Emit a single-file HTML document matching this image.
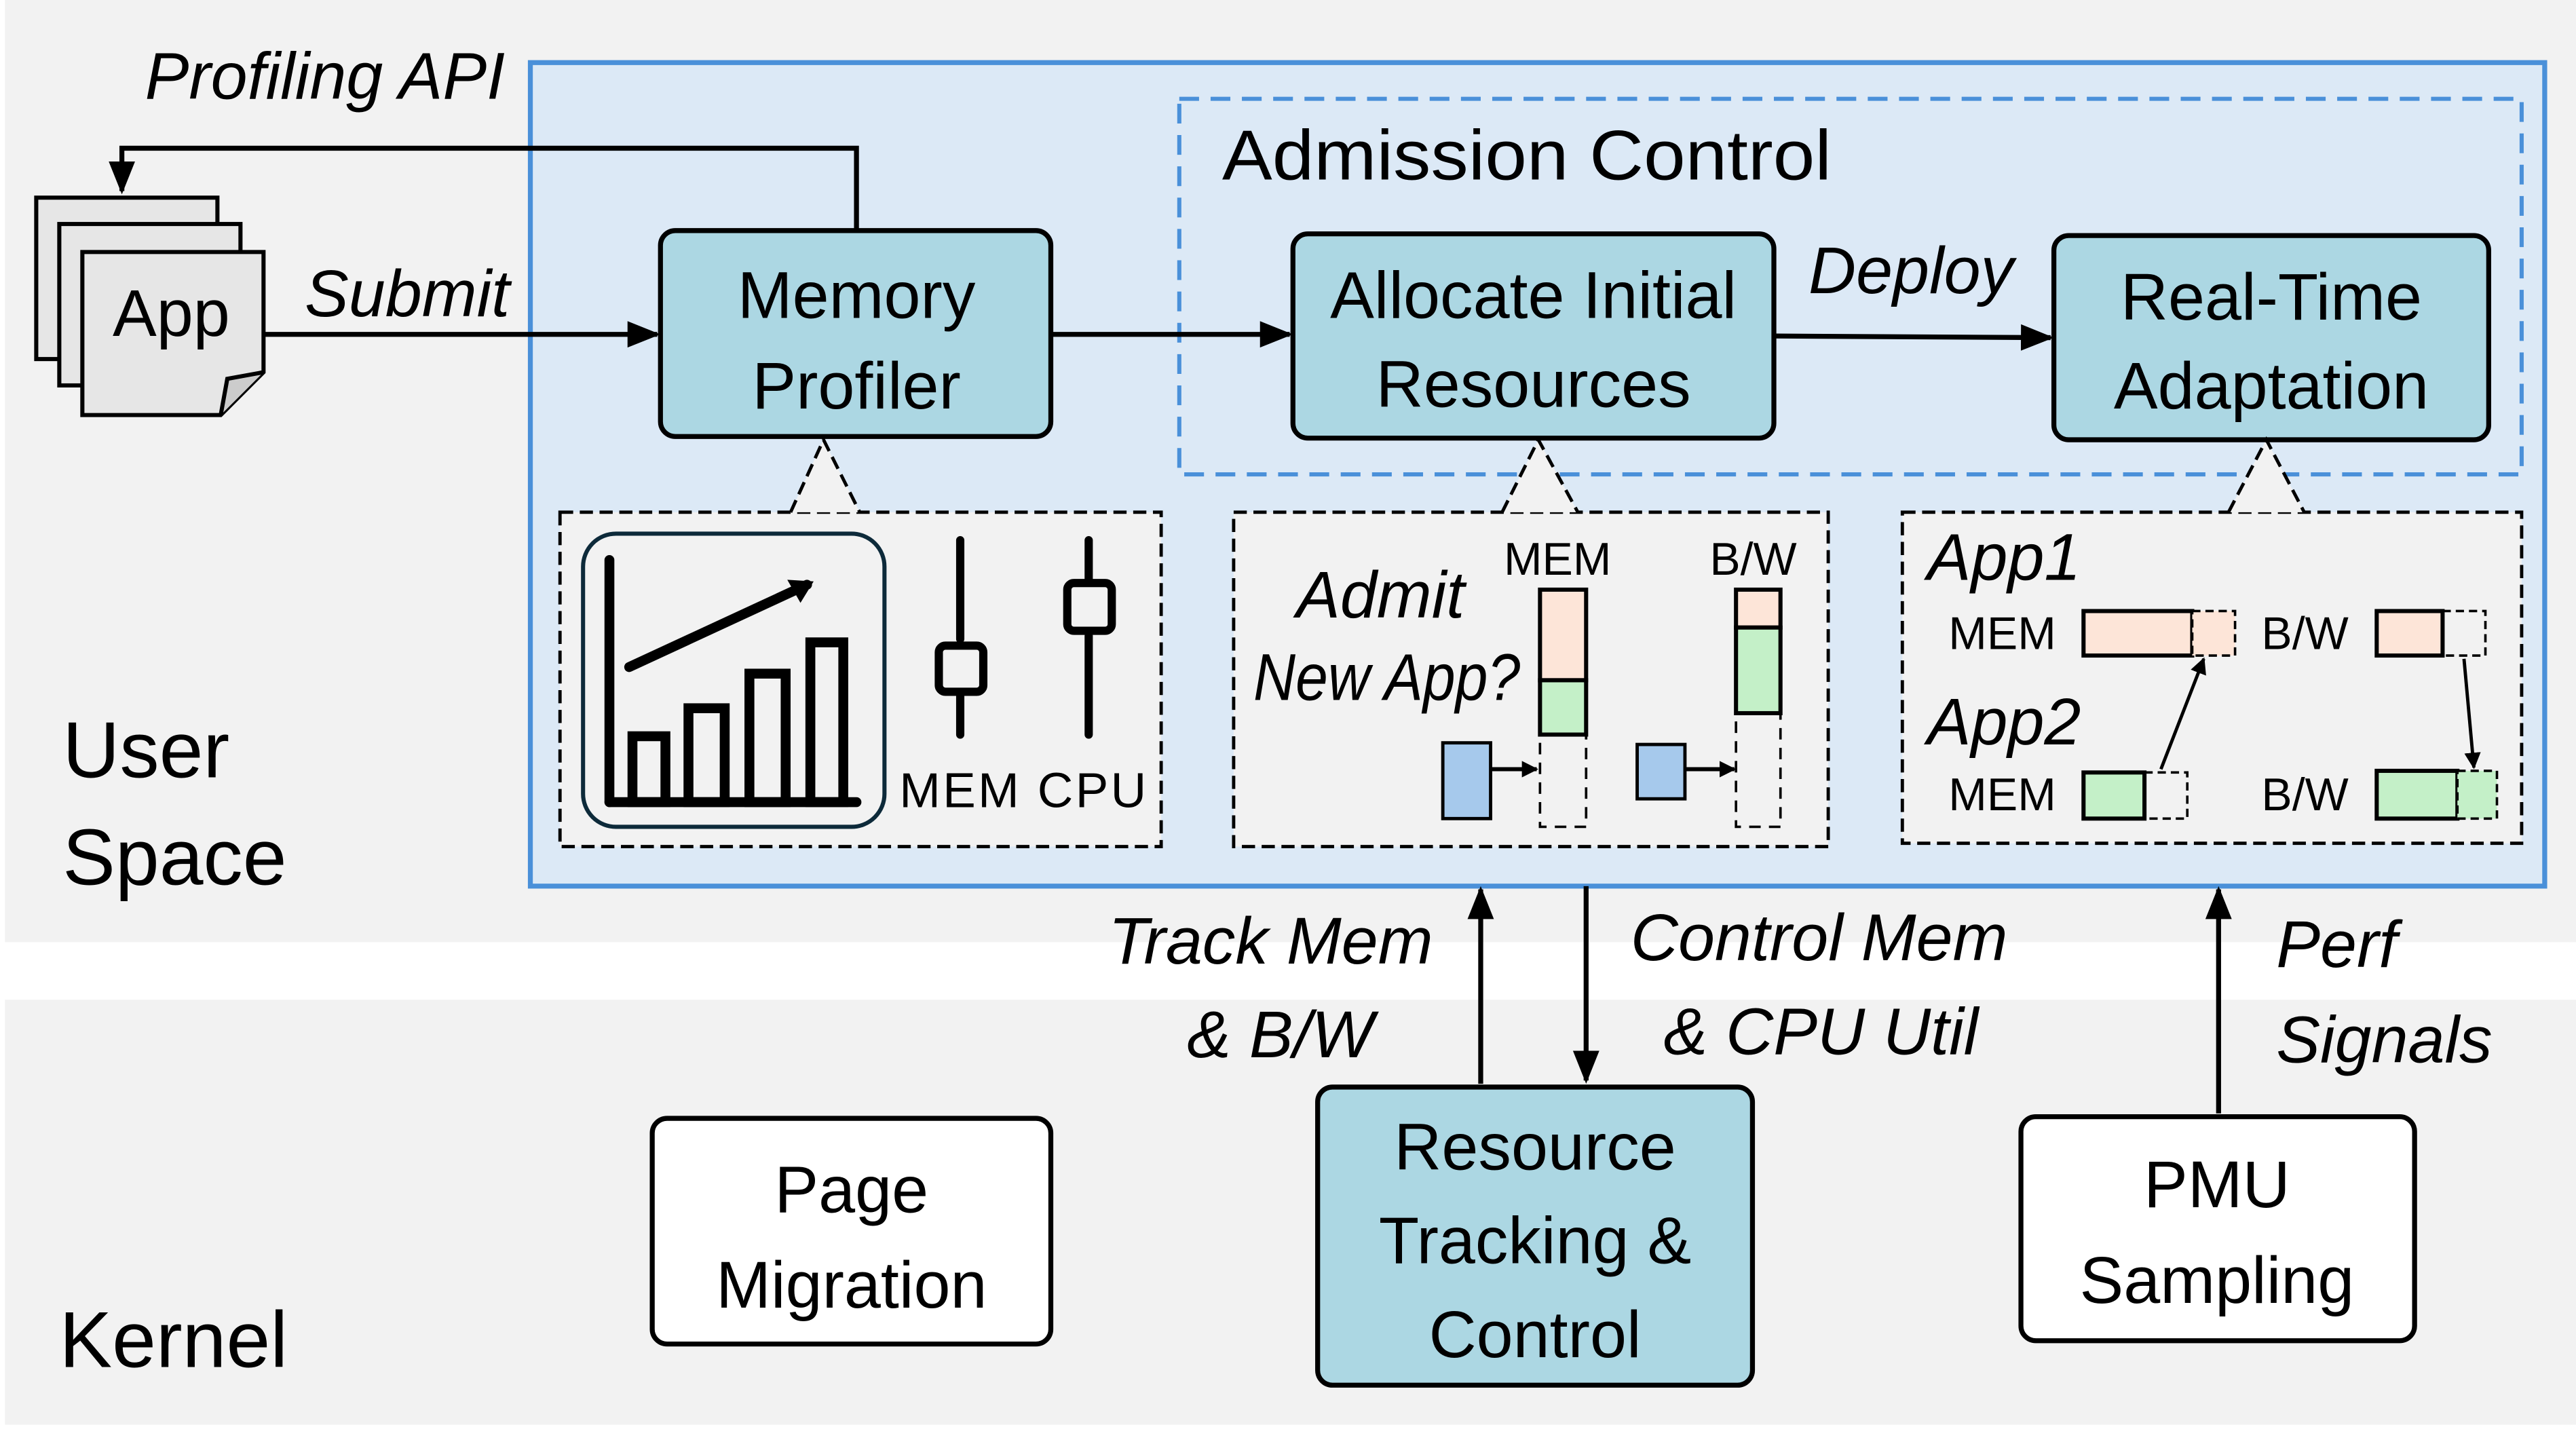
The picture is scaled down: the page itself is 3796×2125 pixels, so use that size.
<!DOCTYPE html>
<html><head><meta charset="utf-8"><style>
html,body{margin:0;padding:0;background:#fff;}
svg{display:block;}
text{font-family:"Liberation Sans",sans-serif;fill:#000;}
.n{font-size:40px;text-anchor:middle;}
.i{font-style:italic;font-size:40px;}
.s{font-size:28px;}
</style></head><body>
<svg width="3796" height="2125" viewBox="0 0 1564 875.5" preserveAspectRatio="none" xmlns="http://www.w3.org/2000/svg">
<defs>
<marker id="ah" markerWidth="10" markerHeight="10" refX="9" refY="5" orient="auto" markerUnits="userSpaceOnUse" viewBox="0 0 10 10"><path d="M0,0 L10,5 L0,10 z" fill="#000"/></marker>
<marker id="ah2" markerWidth="20" markerHeight="20" refX="18" refY="10" orient="auto" markerUnits="userSpaceOnUse" viewBox="0 0 20 20"><path d="M0,2 L20,10 L0,18 z" fill="#000"/></marker>
</defs>
<rect x="3" y="0" width="1561" height="572" fill="#f2f2f2"/>
<rect x="3" y="607" width="1561" height="258" fill="#f2f2f2"/>
<rect x="322" y="38" width="1223" height="500" fill="#dce9f6" stroke="#4a90d9" stroke-width="3"/>
<rect x="716" y="60" width="815" height="228" fill="none" stroke="#4a90d9" stroke-width="2.5" stroke-dasharray="12,7"/>
<text x="742" y="109" font-size="43" textLength="370" lengthAdjust="spacingAndGlyphs">Admission Control</text>
<text x="38" y="472" font-size="48">User</text>
<text x="38" y="537" font-size="48">Space</text>
<text x="36" y="830" font-size="48">Kernel</text>
<rect x="22" y="120" width="110" height="98" fill="#e6e6e6" stroke="#000" stroke-width="2.5"/>
<rect x="36" y="136" width="110" height="98" fill="#e6e6e6" stroke="#000" stroke-width="2.5"/>
<path d="M50,153 H160 V226 L134,252 H50 Z" fill="#e6e6e6" stroke="#000" stroke-width="2.5"/>
<path d="M134,252 L138,230 L160,226" fill="#ccc" stroke="#000" stroke-width="2.5"/>
<text x="104" y="204" class="n" font-size="38">App</text>
<polyline points="520,140 520,90 74,90 74,116" fill="none" stroke="#000" stroke-width="3" marker-end="url(#ah2)"/>
<text x="88" y="60" class="i">Profiling API</text>
<line x1="160" y1="203" x2="399" y2="203" stroke="#000" stroke-width="3" marker-end="url(#ah2)"/>
<text x="185" y="192" class="i">Submit</text>
<rect x="401" y="140" width="237" height="125" rx="9" fill="#acd7e3" stroke="#000" stroke-width="3"/>
<text x="520" y="193" class="n" font-size="44">Memory</text>
<text x="520" y="248" class="n" font-size="44">Profiler</text>
<line x1="638" y1="203" x2="783" y2="203" stroke="#000" stroke-width="3" marker-end="url(#ah2)"/>
<rect x="785" y="142" width="292" height="124" rx="9" fill="#acd7e3" stroke="#000" stroke-width="3"/>
<text x="931" y="193" class="n">Allocate Initial</text>
<text x="931" y="247" class="n">Resources</text>
<line x1="1077" y1="204" x2="1245" y2="205" stroke="#000" stroke-width="3" marker-end="url(#ah2)"/>
<text x="1098" y="178" class="i">Deploy</text>
<rect x="1247" y="143" width="264" height="124" rx="9" fill="#acd7e3" stroke="#000" stroke-width="3"/>
<text x="1379" y="194" class="n">Real-Time</text>
<text x="1379" y="248" class="n">Adaptation</text>
<rect x="340" y="311" width="365" height="203" fill="#f2f2f2" stroke="#000" stroke-width="2" stroke-dasharray="8,4"/>
<path d="M480,311 L500,267 L522,311" fill="#f2f2f2" stroke="#000" stroke-width="2" stroke-dasharray="8,4"/>
<rect x="354" y="324" width="183" height="178" rx="20" fill="#f2f2f2" stroke="#0d2a3a" stroke-width="2.5"/>
<g stroke="#000" stroke-width="6" fill="none" stroke-linecap="round">
<line x1="370" y1="340" x2="370" y2="487"/>
<line x1="370" y1="487" x2="520" y2="487"/>
<rect x="384" y="447" width="20" height="40"/>
<rect x="418" y="430" width="22" height="57"/>
<rect x="455" y="409" width="22" height="78"/>
<rect x="492" y="390" width="20" height="97"/>
<line x1="382" y1="405" x2="490" y2="355"/>
</g>
<path d="M494,353 L478,352 L486,366 z" fill="#000"/>
<g stroke="#000" stroke-width="5" fill="none" stroke-linecap="round">
<line x1="583" y1="328" x2="583" y2="388"/>
<rect x="570" y="392" width="27" height="28" rx="4"/>
<line x1="583" y1="422" x2="583" y2="446"/>
<line x1="661" y1="328" x2="661" y2="352"/>
<rect x="648" y="354" width="27" height="29" rx="4"/>
<line x1="661" y1="386" x2="661" y2="446"/>
</g>
<text x="546" y="490" font-size="30" textLength="150" lengthAdjust="spacing">MEM CPU</text>
<rect x="749" y="311" width="361" height="203" fill="#f2f2f2" stroke="#000" stroke-width="2" stroke-dasharray="8,4"/>
<path d="M912,311 L934,267 L958,311" fill="#f2f2f2" stroke="#000" stroke-width="2" stroke-dasharray="8,4"/>
<text x="787" y="375" class="i" font-size="34">Admit</text>
<text x="761" y="425" class="i" font-size="34" textLength="162" lengthAdjust="spacingAndGlyphs">New App?</text>
<text x="913" y="349" class="s">MEM</text>
<text x="1038" y="349" class="s">B/W</text>
<rect x="935" y="358" width="28" height="55" fill="#fde5d8" stroke="#000" stroke-width="2.5"/>
<rect x="935" y="413" width="28" height="33" fill="#c4f0c8" stroke="#000" stroke-width="2.5"/>
<rect x="935" y="446" width="28" height="56" fill="none" stroke="#000" stroke-width="1.5" stroke-dasharray="7,5"/>
<rect x="1054" y="358" width="27" height="23" fill="#fde5d8" stroke="#000" stroke-width="2.5"/>
<rect x="1054" y="381" width="27" height="52" fill="#c4f0c8" stroke="#000" stroke-width="2.5"/>
<rect x="1054" y="433" width="27" height="69" fill="none" stroke="#000" stroke-width="1.5" stroke-dasharray="7,5"/>
<rect x="876" y="451" width="29" height="46" fill="#a6c9ec" stroke="#000" stroke-width="2"/>
<line x1="905" y1="467" x2="933" y2="467" stroke="#000" stroke-width="2.5" marker-end="url(#ah)"/>
<rect x="994" y="452" width="29" height="33" fill="#a6c9ec" stroke="#000" stroke-width="2"/>
<line x1="1023" y1="467" x2="1053" y2="467" stroke="#000" stroke-width="2.5" marker-end="url(#ah)"/>
<rect x="1155" y="311" width="376" height="201" fill="#f2f2f2" stroke="#000" stroke-width="2" stroke-dasharray="8,4"/>
<path d="M1353,311 L1376,267 L1399,311" fill="#f2f2f2" stroke="#000" stroke-width="2" stroke-dasharray="8,4"/>
<text x="1170" y="352" class="i" font-size="34">App1</text>
<text x="1170" y="452" class="i" font-size="34">App2</text>
<text x="1183" y="394" class="s">MEM</text>
<text x="1373" y="394" class="s">B/W</text>
<text x="1183" y="492" class="s">MEM</text>
<text x="1373" y="492" class="s">B/W</text>
<rect x="1265" y="371" width="66" height="27" fill="#fde5d8" stroke="#000" stroke-width="2.5"/>
<rect x="1331" y="371" width="26" height="27" fill="#fde5d8" stroke="#000" stroke-width="1.5" stroke-dasharray="5,3"/>
<rect x="1443" y="371" width="40" height="27" fill="#fde5d8" stroke="#000" stroke-width="2.5"/>
<rect x="1483" y="371" width="26" height="27" fill="none" stroke="#000" stroke-width="1.5" stroke-dasharray="5,3"/>
<rect x="1265" y="469" width="37" height="28" fill="#c4f0c8" stroke="#000" stroke-width="2.5"/>
<rect x="1302" y="469" width="26" height="28" fill="none" stroke="#000" stroke-width="1.5" stroke-dasharray="5,3"/>
<rect x="1443" y="468" width="49" height="29" fill="#c4f0c8" stroke="#000" stroke-width="2.5"/>
<rect x="1492" y="468" width="24" height="29" fill="#c4f0c8" stroke="#000" stroke-width="1.5" stroke-dasharray="5,3"/>
<line x1="1312" y1="467" x2="1338" y2="400" stroke="#000" stroke-width="2" marker-end="url(#ah)"/>
<line x1="1496" y1="400" x2="1502" y2="466" stroke="#000" stroke-width="2" marker-end="url(#ah)"/>
<line x1="899" y1="658" x2="899" y2="540" stroke="#000" stroke-width="3" marker-end="url(#ah2)"/>
<line x1="963" y1="538" x2="963" y2="656" stroke="#000" stroke-width="3" marker-end="url(#ah2)"/>
<line x1="1347" y1="676" x2="1347" y2="540" stroke="#000" stroke-width="3" marker-end="url(#ah2)"/>
<text x="870" y="585" class="i" text-anchor="end">Track Mem</text>
<text x="834" y="642" class="i" text-anchor="end">&amp; B/W</text>
<text x="990" y="583" class="i">Control Mem</text>
<text x="1010" y="640" class="i">&amp; CPU Util</text>
<text x="1382" y="587" class="i">Perf</text>
<text x="1382" y="645" class="i">Signals</text>
<rect x="396" y="679" width="242" height="137" rx="9" fill="#fff" stroke="#000" stroke-width="3"/>
<text x="517" y="736" class="n" font-size="42">Page</text>
<text x="517" y="794" class="n" font-size="42">Migration</text>
<rect x="800" y="660" width="264" height="181" rx="9" fill="#acd7e3" stroke="#000" stroke-width="3"/>
<text x="932" y="710" class="n" font-size="42">Resource</text>
<text x="932" y="767" class="n" font-size="42">Tracking &amp;</text>
<text x="932" y="824" class="n" font-size="42">Control</text>
<rect x="1227" y="678" width="239" height="136" rx="9" fill="#fff" stroke="#000" stroke-width="3"/>
<text x="1346" y="733" class="n" font-size="42">PMU</text>
<text x="1346" y="791" class="n" font-size="42">Sampling</text>
</svg>
</body></html>
